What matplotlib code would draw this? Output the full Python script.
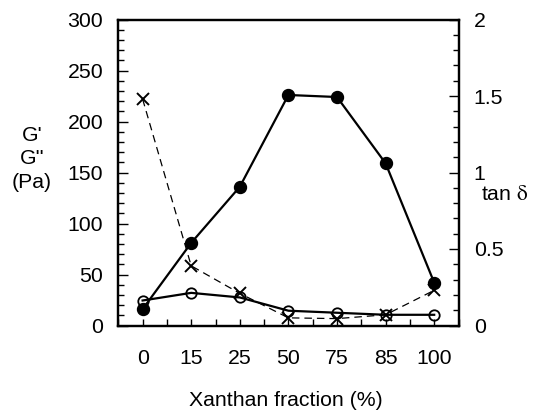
import matplotlib
matplotlib.use("Agg")
import matplotlib.pyplot as plt
import numpy as np
from matplotlib.ticker import MultipleLocator

plt.rcParams['font.family'] = ['Liberation Sans', 'DejaVu Sans']
plt.rcParams['mathtext.fontset'] = 'stix'

categories = ['0', '15', '25', '50', '75', '85', '100']
g_prime = [16, 81, 136, 226, 224, 159, 42]
g_double = [24.5, 32, 27.5, 14.5, 12.5, 10.5, 10.5]
tan_delta = [1.48, 0.39, 0.21, 0.05, 0.045, 0.07, 0.23]

x = np.arange(len(categories))
FS = 15.3

fig = plt.figure(figsize=(5.37, 4.16), dpi=100)
ax = fig.add_axes([118.3 / 537, 1 - 325.5 / 416, (458.5 - 118.3) / 537, (325.5 - 19.5) / 416])
ax2 = ax.twinx()

ax2.plot(x, tan_delta, color='black', lw=0.9, dashes=(6, 4), marker='x',
         markersize=8.4, markeredgewidth=1.4, zorder=2)
ax.plot(x, g_double, color='black', lw=1.6, marker='o', markersize=7.5,
        markerfacecolor='none', markeredgewidth=1.3, zorder=3)
ax.plot(x, g_prime, color='black', lw=1.6, marker='o', markersize=8.6,
        markerfacecolor='black', zorder=4)

ax.set_zorder(ax2.get_zorder() + 1)
ax.patch.set_visible(False)

ax.set_xlim(-0.5, 6.5)
ax.set_ylim(0, 300)
ax2.set_ylim(0, 2)

ax.set_xticks(x)
ax.set_xticklabels(categories)
ax.xaxis.set_minor_locator(MultipleLocator(0.5))
ax.yaxis.set_major_locator(MultipleLocator(50))
ax.yaxis.set_minor_locator(MultipleLocator(10))
ax2.set_yticks([0, 0.5, 1, 1.5, 2])
ax2.set_yticklabels(['0', '0.5', '1', '1.5', '2'])
ax2.yaxis.set_minor_locator(MultipleLocator(0.1))

ax.tick_params(axis='x', which='both', direction='in', length=5, width=1,
               top=False, pad=17, labelsize=FS)
ax.tick_params(axis='y', which='major', direction='in', length=7, width=1,
               right=False, pad=11, labelsize=FS)
ax.tick_params(axis='y', which='minor', direction='in', length=4, width=1, right=False)
ax2.tick_params(axis='y', which='major', direction='in', length=7, width=1,
                pad=11, labelsize=FS)
ax2.tick_params(axis='y', which='minor', direction='in', length=4, width=1)

for a in (ax, ax2):
    for s in a.spines.values():
        s.set_linewidth(1.6)

fig.text(286 / 537, 1 - 401 / 416, 'Xanthan fraction (%)',
         ha='center', va='center', fontsize=FS)
fig.text(32 / 537, 1 - 159 / 416, "G'\nG''\n(Pa)", ha='center', va='center',
         fontsize=FS, linespacing=1.3)
fig.text(505 / 537, 1 - 194 / 416, r'tan $\mathrm{\delta}$', ha='center',
         va='center', fontsize=FS)

fig.savefig('out.png', dpi=100)
